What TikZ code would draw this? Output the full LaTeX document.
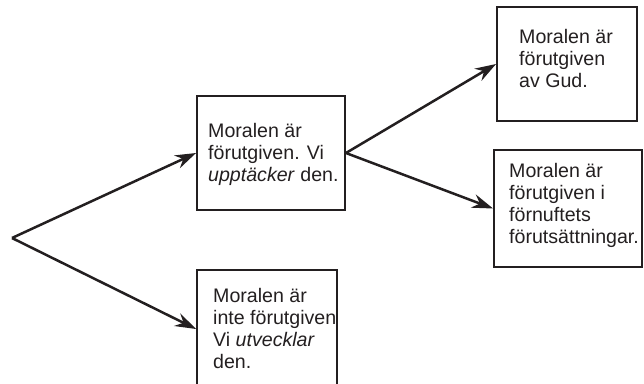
\documentclass[tikz,border=0pt]{standalone}
\usepackage{fontspec}
\setmainfont{Liberation Sans}
\usetikzlibrary{arrows.meta}
\definecolor{ink}{RGB}{35,31,32}
\begin{document}
\begin{tikzpicture}[x=1pt,y=-1pt,
  box/.style={draw=ink, line width=1.9pt, rectangle, inner sep=0pt},
  txt/.style={text=ink, align=left, inner sep=0pt, anchor=base west,
    font=\fontsize{19.6}{22}\selectfont},
  arr/.style={draw=ink, line width=2.5pt, -{Stealth[length=21pt,width=14pt,inset=7pt]}}]
\useasboundingbox (0,0) rectangle (644,383);
\coordinate (o) at (12,238);
\node[box, minimum width=148pt, minimum height=114pt] (b1) at (271,153) {};
\node[box, minimum width=140pt, minimum height=114pt] (b2) at (567,64) {};
\node[box, minimum width=148pt, minimum height=117pt] (b3) at (568,208.5) {};
\node[box, minimum width=140pt, minimum height=118pt] (b4) at (267,329) {};
\node[txt] (t1) at (208,181) {Moralen är\\förutgiven. Vi\\\textit{upptäcker} den.};
\node[txt] (t2) at (519,87) {Moralen är\\förutgiven\\av Gud.};
\node[txt] (t3) at (509,243) {Moralen är\\förutgiven i\\förnuftets\\förutsättningar.};
\node[txt] (t4) at (213,368) {Moralen är\\inte förutgiven\\Vi \textit{utvecklar}\\den.};
\draw[arr] (o) -- (b1.west);
\draw[arr] (o) -- (b4.west);
\draw[arr] (b1.east) -- (b2.west);
\draw[arr] (b1.east) -- (b3.west);
\end{tikzpicture}
\end{document}
